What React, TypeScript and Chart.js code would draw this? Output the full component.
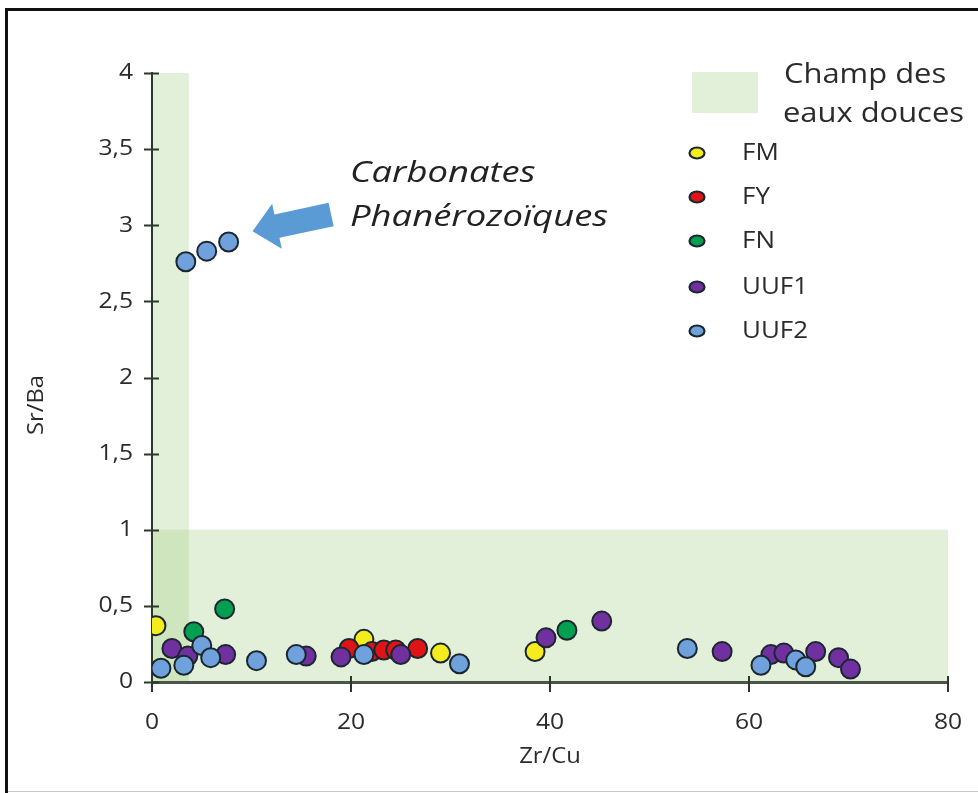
import React, { useEffect, useRef } from 'react';
import { Chart, registerables } from 'chart.js';

Chart.register(...registerables);

// ---------- data ----------
const seriesNames = ['FM', 'FY', 'FN', 'UUF1', 'UUF2'];
const seriesColors = ['#f4ec1c', '#e01414', '#00a050', '#7030a0', '#6fa2dc'];

const fmX = [0.4, 21.3, 29.0, 38.5];
const fmY = [0.37, 0.28, 0.19, 0.2];

const fyX = [19.8, 22.1, 23.3, 24.5, 26.7];
const fyY = [0.22, 0.2, 0.21, 0.21, 0.22];

const fnX = [4.2, 7.3, 41.7];
const fnY = [0.33, 0.48, 0.34];

const uuf1X = [2.0, 3.6, 7.4, 15.5, 19.0, 25.0, 39.6, 45.2, 57.3, 62.2, 63.5, 66.7, 69.0, 70.2];
const uuf1Y = [0.22, 0.17, 0.18, 0.17, 0.165, 0.18, 0.29, 0.4, 0.2, 0.18, 0.19, 0.2, 0.16, 0.085];

const uuf2X = [0.9, 3.2, 5.0, 5.9, 10.5, 14.5, 21.3, 30.9, 53.8, 61.2, 64.7, 65.7, 3.4, 5.5, 7.7];
const uuf2Y = [0.09, 0.11, 0.24, 0.16, 0.14, 0.18, 0.18, 0.12, 0.22, 0.11, 0.145, 0.1, 2.76, 2.83, 2.89];

const xTickValues = [0, 20, 40, 60, 80];
const yTickValues = [0, 0.5, 1, 1.5, 2, 2.5, 3, 3.5, 4];

// freshwater field rectangles (data units)
const fieldX0 = [0, 0];
const fieldX1 = [3.7, 80];
const fieldY0 = [0, 0];
const fieldY1 = [4, 1];

const legendFieldLines = ['Champ des', 'eaux douces'];
const annotationLines = ['Carbonates', 'Phanérozoïques'];
const xTitle = 'Zr/Cu';
const yTitle = 'Sr/Ba';

// arrow (data units)
const arrowTail = { x: 18.0, y: 3.07 };
const arrowTip = { x: 10.1, y: 2.96 };

const seriesX = [fmX, fyX, fnX, uuf1X, uuf2X];
const seriesY = [fmY, fyY, fnY, uuf1Y, uuf2Y];

const FONT = '"Open Sans", "DejaVu Sans", sans-serif';
const FIELD_FILL = 'rgba(160,205,130,0.3)';
const TEXT = '#2b2b2b';

function fmt(v: number) {
  return String(v).replace('.', ',');
}

function stretchText(
  ctx: CanvasRenderingContext2D,
  text: string,
  x: number,
  y: number,
  font: string,
  sx: number,
  align: CanvasTextAlign,
  color: string,
  rotate = 0
) {
  ctx.save();
  ctx.font = font;
  ctx.fillStyle = color;
  ctx.textBaseline = 'middle';
  ctx.textAlign = align;
  ctx.translate(x, y);
  if (rotate) ctx.rotate(rotate);
  ctx.scale(sx, 1);
  ctx.fillText(text, 0, 0);
  ctx.restore();
}

function fitScale(ctx: CanvasRenderingContext2D, text: string, font: string, target: number) {
  ctx.save();
  ctx.font = font;
  const w = ctx.measureText(text).width;
  ctx.restore();
  return w > 0 ? target / w : 1;
}

const decorPlugin = {
  id: 'decor',
  beforeDraw(chart: any) {
    const { ctx, width, height } = chart;
    const xs = chart.scales.x;
    const ys = chart.scales.y;
    ctx.save();
    ctx.fillStyle = '#ffffff';
    ctx.fillRect(0, 0, width, height);
    // fields
    ctx.fillStyle = FIELD_FILL;
    for (let i = 0; i < fieldX0.length; i++) {
      const l = xs.getPixelForValue(fieldX0[i]);
      const r = xs.getPixelForValue(fieldX1[i]);
      const t = ys.getPixelForValue(fieldY1[i]);
      const b = ys.getPixelForValue(fieldY0[i]);
      ctx.fillRect(l, t, r - l, b - t);
    }
    // frame
    ctx.strokeStyle = '#111111';
    ctx.lineWidth = 3;
    ctx.beginPath();
    ctx.moveTo(5, 9.5);
    ctx.lineTo(width, 9.5);
    ctx.moveTo(6.5, 8);
    ctx.lineTo(6.5, height);
    ctx.stroke();
    ctx.strokeStyle = '#c8c8c8';
    ctx.lineWidth = 1;
    ctx.beginPath();
    ctx.moveTo(8, height - 1.5);
    ctx.lineTo(width, height - 1.5);
    ctx.stroke();
    ctx.restore();
  },
  beforeDatasetsDraw(chart: any) {
    const { ctx } = chart;
    const xs = chart.scales.x;
    const ys = chart.scales.y;
    const area = chart.chartArea;
    ctx.save();
    // cross tick marks
    ctx.strokeStyle = '#2d382d';
    ctx.lineWidth = 2;
    ctx.beginPath();
    for (const t of ys.ticks) {
      const py = Math.round(ys.getPixelForValue(t.value)) + 0.5;
      ctx.moveTo(area.left - 8, py);
      ctx.lineTo(area.left + 7, py);
    }
    for (const t of xs.ticks) {
      const px = Math.round(xs.getPixelForValue(t.value));
      ctx.moveTo(px, area.bottom - 6);
      ctx.lineTo(px, area.bottom + 10);
    }
    ctx.stroke();
    // tick labels
    const tickFont = `22px ${FONT}`;
    for (const t of ys.ticks) {
      stretchText(ctx, fmt(t.value), area.left - 19, ys.getPixelForValue(t.value), tickFont, 1.12, 'right', TEXT);
    }
    for (const t of xs.ticks) {
      stretchText(ctx, fmt(t.value), xs.getPixelForValue(t.value), area.bottom + 41, tickFont, 1.12, 'center', TEXT);
    }
    // axis titles
    const titleFont = `21px ${FONT}`;
    const tsx = fitScale(ctx, yTitle, titleFont, 60);
    stretchText(ctx, yTitle, 37, 405, titleFont, tsx, 'center', TEXT, -Math.PI / 2);
    stretchText(ctx, xTitle, (area.left + area.right) / 2, 757, titleFont, tsx, 'center', TEXT);
    ctx.restore();
  },
  afterDraw(chart: any) {
    const { ctx } = chart;
    const xs = chart.scales.x;
    const ys = chart.scales.y;
    ctx.save();
    // legend: field swatch
    ctx.fillStyle = FIELD_FILL;
    ctx.fillRect(692, 72, 66, 41);
    const headFont = `28px ${FONT}`;
    const hsx = fitScale(ctx, legendFieldLines[1], headFont, 181);
    stretchText(ctx, legendFieldLines[0], 784, 75, headFont, hsx, 'left', TEXT);
    stretchText(ctx, legendFieldLines[1], 783, 114, headFont, hsx, 'left', TEXT);
    // legend entries
    const entFont = `24px ${FONT}`;
    const esx = fitScale(ctx, 'UUF1', entFont, 66);
    const entryY = [153, 197, 241, 287, 331];
    for (let i = 0; i < seriesNames.length; i++) {
      const y = entryY[i];
      ctx.beginPath();
      ctx.ellipse(697, y, 7.5, 5.5, 0, 0, Math.PI * 2);
      ctx.fillStyle = seriesColors[i];
      ctx.fill();
      ctx.lineWidth = 2.2;
      ctx.strokeStyle = '#1c2630';
      ctx.stroke();
      stretchText(ctx, seriesNames[i], 742, y, entFont, esx, 'left', TEXT);
    }
    // annotation text
    const annFont = `italic 30px ${FONT}`;
    const asx = fitScale(ctx, annotationLines[1], annFont, 258);
    stretchText(ctx, annotationLines[0], 350, 173, annFont, asx, 'left', '#222222');
    stretchText(ctx, annotationLines[1], 350, 217, annFont, asx, 'left', '#222222');
    // arrow
    const tx = xs.getPixelForValue(arrowTail.x);
    const ty = ys.getPixelForValue(arrowTail.y);
    const px = xs.getPixelForValue(arrowTip.x);
    const py = ys.getPixelForValue(arrowTip.y);
    const dx = px - tx;
    const dy = py - ty;
    const len = Math.hypot(dx, dy);
    const ux = dx / len;
    const uy = dy / len;
    const nx = -uy;
    const ny = ux;
    const sw = 12;
    const hw = 23;
    const hl = 25;
    const bx = px - ux * hl;
    const by = py - uy * hl;
    ctx.beginPath();
    ctx.moveTo(tx + nx * sw, ty + ny * sw);
    ctx.lineTo(bx + nx * sw, by + ny * sw);
    ctx.lineTo(bx + nx * hw, by + ny * hw);
    ctx.lineTo(px, py);
    ctx.lineTo(bx - nx * hw, by - ny * hw);
    ctx.lineTo(bx - nx * sw, by - ny * sw);
    ctx.lineTo(tx - nx * sw, ty - ny * sw);
    ctx.closePath();
    ctx.fillStyle = '#5b9bd5';
    ctx.fill();
    ctx.restore();
  },
};

export default function App() {
  const canvasRef = useRef<HTMLCanvasElement | null>(null);

  useEffect(() => {
    const canvas = canvasRef.current;
    if (!canvas) return;
    const datasets = seriesNames.map((name, i) => ({
      label: name,
      data: seriesX[i].map((x, j) => ({ x, y: seriesY[i][j] })),
      backgroundColor: seriesColors[i],
      borderColor: '#1c2630',
      pointBackgroundColor: seriesColors[i],
      pointBorderColor: '#1c2630',
      pointBorderWidth: 2,
      pointRadius: 9.5,
      showLine: false,
      order: seriesNames.length - i,
    }));
    const chart = new Chart(canvas, {
      type: 'scatter',
      data: { datasets },
      options: {
        animation: false,
        responsive: false,
        maintainAspectRatio: false,
        events: [],
        layout: { padding: { top: 73, right: 30, left: 0, bottom: 0 } },
        plugins: { legend: { display: false }, tooltip: { enabled: false } },
        scales: {
          x: {
            type: 'linear',
            min: xTickValues[0],
            max: xTickValues[xTickValues.length - 1],
            ticks: { stepSize: 20, display: false },
            grid: { display: false, drawTicks: false },
            border: { color: '#4a544a', width: 3 },
            afterFit: (s: any) => {
              s.height = 111;
            },
          },
          y: {
            type: 'linear',
            min: yTickValues[0],
            max: yTickValues[yTickValues.length - 1],
            ticks: { stepSize: 0.5, display: false },
            grid: { display: false, drawTicks: false },
            border: { color: '#2d382d', width: 2 },
            afterFit: (s: any) => {
              s.width = 152;
            },
          },
        },
      } as any,
      plugins: [decorPlugin],
    });
    return () => chart.destroy();
  }, []);

  return (
    <div style={{ position: 'absolute', left: 0, top: 0, width: 978, height: 793 }}>
      <canvas ref={canvasRef} width={978} height={793} style={{ display: 'block' }} />
    </div>
  );
}
